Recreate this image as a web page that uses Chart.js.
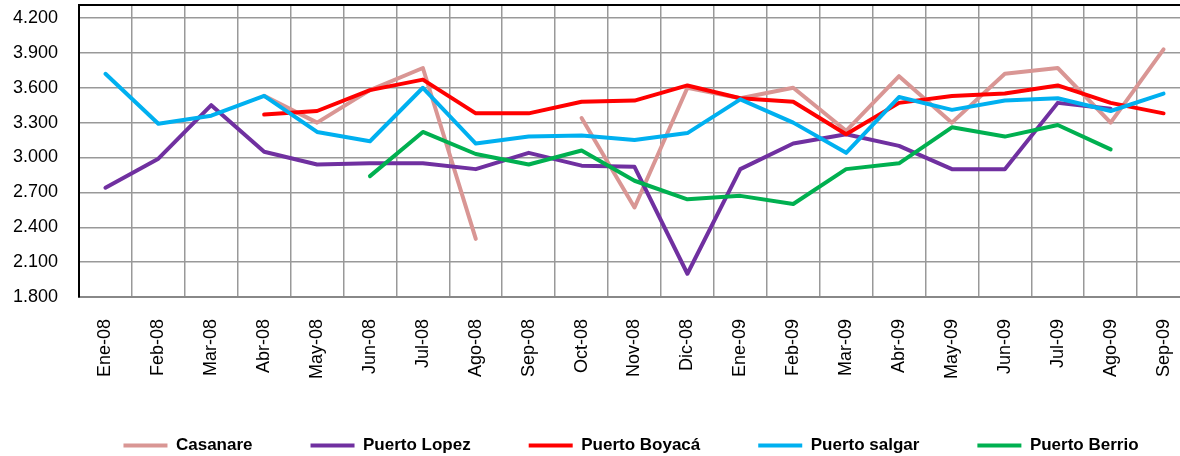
<!DOCTYPE html>
<html lang="es">
<head>
    <meta charset="UTF-8">
    <title>Precios por municipio</title>
    <script src="https://cdn.jsdelivr.net/npm/chart.js"></script>
    <style>
        body {
            margin: 0;
            background: #fff;
            overflow: hidden;
        }
    </style>
</head>
<body>
    <canvas id="precioChart" width="1190" height="464"></canvas>

    <script>
        const meses = ["Ene-08", "Feb-08", "Mar-08", "Abr-08", "May-08", "Jun-08", "Jul-08", "Ago-08", "Sep-08",
            "Oct-08", "Nov-08", "Dic-08", "Ene-09", "Feb-09", "Mar-09", "Abr-09", "May-09", "Jun-09", "Jul-09",
            "Ago-09", "Sep-09"];

        const casanare = [null, null, null, 3530, 3300, 3580, 3770, 2300, null, 3340, 2570, 3600, 3510, 3600,
            3230, 3700, 3300, 3720, 3770, 3300, 3930];
        const puertoLopez = [2740, 2990, 3450, 3050, 2940, 2950, 2950, 2900, 3040, 2930, 2920, 2000, 2900, 3120,
            3200, 3100, 2900, 2900, 3470, 3420, null];
        const puertoBoyaca = [null, null, null, 3370, 3400, 3580, 3670, 3380, 3380, 3480, 3490, 3620, 3510, 3480,
            3200, 3470, 3530, 3550, 3620, 3470, 3380];
        const puertoSalgar = [3720, 3290, 3360, 3530, 3220, 3140, 3600, 3120, 3180, 3190, 3150, 3210, 3500, 3300,
            3040, 3520, 3410, 3490, 3510, 3400, 3550];
        const puertoBerrio = [null, null, null, null, null, 2840, 3220, 3030, 2940, 3060, 2800, 2640, 2670, 2600,
            2900, 2950, 3260, 3180, 3280, 3070, null];

        const yTicks = [1800, 2100, 2400, 2700, 3000, 3300, 3600, 3900, 4200];

        Chart.defaults.font.family = "'Liberation Sans', Arial, sans-serif";
        Chart.defaults.color = "#000";

        function serie(label, data, color, order) {
            return {
                label: label,
                data: data,
                borderColor: color,
                backgroundColor: color,
                borderWidth: 4,
                borderCapStyle: "round",
                borderJoinStyle: "round",
                pointRadius: 0,
                tension: 0,
                spanGaps: false,
                order: order
            };
        }

        // miles con punto: 4200 -> 4.200
        const miles = v => String(v).replace(/\B(?=(\d{3})+(?!\d))/g, ".");

        const marco = {
            id: "marco",
            // corre la leyenda un poco a la derecha como en el original
            afterLayout(chart) {
                chart.legend.left += 36;
                chart.legend.right += 36;
            },
            // borde negro arriba del area de trazado
            afterDraw(chart) {
                const { ctx, chartArea } = chart;
                ctx.save();
                ctx.strokeStyle = "#000";
                ctx.lineWidth = 2;
                ctx.beginPath();
                ctx.moveTo(chartArea.left, chartArea.top);
                ctx.lineTo(chartArea.right, chartArea.top);
                ctx.stroke();
                ctx.restore();
            }
        };

        new Chart(document.getElementById("precioChart").getContext("2d"), {
            type: "line",
            data: {
                labels: meses,
                datasets: [
                    serie("Casanare", casanare, "#D99694", 5),
                    serie("Puerto Lopez", puertoLopez, "#7030A0", 4),
                    serie("Puerto Boyacá", puertoBoyaca, "#FF0000", 3),
                    serie("Puerto salgar", puertoSalgar, "#00B0F0", 2),
                    serie("Puerto Berrio", puertoBerrio, "#00B050", 1)
                ]
            },
            options: {
                responsive: false,
                animation: false,
                layout: { padding: { top: 5 } },
                scales: {
                    x: {
                        offset: true,
                        grid: { offset: true, color: "#999", lineWidth: 1.5, drawTicks: false },
                        border: { color: "#888", width: 2 },
                        ticks: {
                            font: { size: 18 },
                            maxRotation: 90,
                            minRotation: 90,
                            autoSkip: false,
                            padding: 22
                        },
                        afterFit: scale => {
                            scale.height = 82;
                            scale.paddingLeft = 0;
                            scale.paddingRight = 0;
                        }
                    },
                    y: {
                        min: 1800,
                        max: 4312,
                        grid: { color: "#999", lineWidth: 1.5, drawTicks: false },
                        border: { color: "#000", width: 2 },
                        ticks: {
                            stepSize: 300,
                            font: { size: 18 },
                            padding: 21,
                            callback: v => miles(v)
                        },
                        afterBuildTicks: axis => {
                            axis.ticks = yTicks.map(v => ({ value: v }));
                        },
                        afterFit: scale => {
                            scale.width = 79;
                            scale.paddingTop = 0;
                            scale.paddingBottom = 0;
                        }
                    }
                },
                plugins: {
                    legend: {
                        position: "bottom",
                        labels: {
                            usePointStyle: true,
                            pointStyle: "line",
                            pointStyleWidth: 44,
                            padding: 58,
                            font: { size: 17, weight: "bold" },
                            sort: (a, b) => a.datasetIndex - b.datasetIndex
                        }
                    },
                    tooltip: { enabled: false }
                }
            },
            plugins: [marco]
        });
    </script>
</body>
</html>
